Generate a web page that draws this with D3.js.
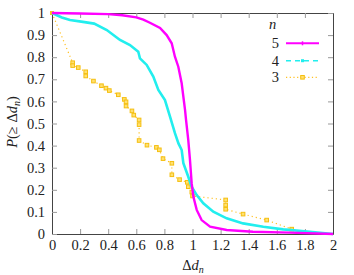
<!DOCTYPE html>
<html>
<head>
<meta charset="utf-8">
<script src="https://cdn.jsdelivr.net/npm/d3@7"></script>
<style>
  body { margin: 0; background: #fff; }
</style>
</head>
<body>
<svg id="chart" width="354" height="275"></svg>
<script>
// series n = 5, 4, 3 as [Δd_n, P(≥ Δd_n)]
const series5 = [[0, 1], [0.2, 0.998], [0.4, 0.995], [0.5, 0.99], [0.6, 0.98], [0.65, 0.97], [0.697, 0.956],
  [0.769, 0.932], [0.816, 0.9], [0.852, 0.863], [0.875, 0.802], [0.899, 0.757], [0.923, 0.682], [0.935, 0.621],
  [0.947, 0.561], [0.954, 0.516], [0.97, 0.425], [0.982, 0.335], [0.994, 0.23], [1.006, 0.169], [1.03, 0.109],
  [1.065, 0.063], [1.125, 0.033], [1.243, 0.018], [1.43, 0.01], [1.69, 0.006], [2, 0]];
const series4 = [[0, 1], [0.07, 0.98], [0.128, 0.968], [0.22, 0.96], [0.3, 0.952], [0.39, 0.923], [0.47, 0.885],
  [0.484, 0.878], [0.555, 0.855], [0.614, 0.825], [0.62, 0.81], [0.626, 0.795], [0.674, 0.765], [0.721, 0.712],
  [0.757, 0.652], [0.804, 0.606], [0.84, 0.531], [0.875, 0.456], [0.9, 0.41], [0.923, 0.38], [0.935, 0.32],
  [0.97, 0.259], [0.994, 0.214], [1.03, 0.176], [1.077, 0.139], [1.148, 0.101], [1.243, 0.071], [1.36, 0.048],
  [1.504, 0.033], [1.646, 0.021], [1.836, 0.01], [2, 0]];
const series3 = [[0, 1], [0.147, 0.775], [0.147, 0.762], [0.187, 0.753], [0.24, 0.734], [0.24, 0.715], [0.295, 0.692],
  [0.352, 0.671], [0.384, 0.66], [0.408, 0.649], [0.472, 0.63], [0.515, 0.609], [0.527, 0.598], [0.527, 0.579],
  [0.569, 0.557], [0.582, 0.538], [0.62, 0.516], [0.62, 0.495], [0.62, 0.423], [0.676, 0.402], [0.743, 0.392],
  [0.764, 0.381], [0.79, 0.341], [0.853, 0.32], [0.853, 0.268], [0.908, 0.246], [0.963, 0.234], [0.97, 0.214],
  [0.995, 0.19], [1.0, 0.172], [1.236, 0.154], [1.236, 0.131], [1.236, 0.112], [1.36, 0.09], [1.528, 0.063],
  [1.706, 0.022]];
const xTicks = [0, 0.2, 0.4, 0.6, 0.8, 1, 1.2, 1.4, 1.6, 1.8, 2];
const yTicks = [0, 0.1, 0.2, 0.3, 0.4, 0.5, 0.6, 0.7, 0.8, 0.9, 1];
const legendLabels = ['5', '4', '3'];

const FONT = 'Liberation Serif';
const FS = 14.5;
const plotLeft = 52, plotRight = 333, plotTop = 13, plotBottom = 234;
const svg = d3.select('#chart');

const x = d3.scaleLinear().domain([0, 2]).range([plotLeft, plotRight]);
const y = d3.scaleLinear().domain([0, 1]).range([plotBottom, plotTop]);
const fmt = d3.format('~g');

// ticks point inward on all four sides
const axes = [
  [d3.axisBottom(x).tickValues(xTicks).tickFormat(fmt).tickSizeInner(-5).tickPadding(6), `translate(0,${plotBottom})`],
  [d3.axisTop(x).tickValues(xTicks).tickFormat('').tickSizeInner(-5), `translate(0,${plotTop})`],
  [d3.axisLeft(y).tickValues(yTicks).tickFormat(fmt).tickSizeInner(-5).tickPadding(7), `translate(${plotLeft},0)`],
  [d3.axisRight(y).tickValues(yTicks).tickFormat('').tickSizeInner(-5), `translate(${plotRight},0)`],
];
axes.forEach(([ax, tr]) => {
  const g = svg.append('g').attr('transform', tr).call(ax.tickSizeOuter(0));
  g.attr('font-family', null).attr('font-size', null);
  g.select('.domain').attr('stroke', '#444');
  g.selectAll('.tick line').attr('stroke', '#999');
  g.selectAll('.tick text').attr('fill', '#222')
    .style('font-family', FONT).style('font-size', FS + 'px');
});

const line = d3.line().x(d => x(d[0])).y(d => y(d[1]));

svg.append('path').datum(series3)
  .attr('d', line).attr('fill', 'none')
  .attr('stroke', '#ffc020').attr('stroke-width', 1.2).attr('stroke-dasharray', '1.2,3');
svg.append('g').selectAll('rect').data(series3.slice(1)).join('rect')
  .attr('x', d => x(d[0]) - 1.8).attr('y', d => y(d[1]) - 1.8)
  .attr('width', 3.6).attr('height', 3.6)
  .attr('fill', '#ffe070').attr('stroke', '#f5bf10').attr('stroke-width', 1);
svg.append('rect').attr('x', x(0) - 2).attr('y', y(1) - 2).attr('width', 4).attr('height', 4)
  .attr('fill', '#ffc020');

svg.append('path').datum(series4)
  .attr('d', line).attr('fill', 'none')
  .attr('stroke', '#22eeee').attr('stroke-width', 2.6);

svg.append('path').datum(series5)
  .attr('d', line).attr('fill', 'none')
  .attr('stroke', '#ff00ff').attr('stroke-width', 2.4);

// legend
const leg = svg.append('g');
const txt = sel => sel.style('font-family', FONT).style('font-size', FS + 'px').attr('fill', '#222');
leg.append('text').attr('x', 272.5).attr('y', 29).attr('text-anchor', 'middle')
  .call(txt).style('font-style', 'italic').text('n');
const legY = [43.3, 60.7, 77.3];
const legStyle = [
  { c: '#ff00ff', w: 2, dash: null },
  { c: '#22eeee', w: 1.6, dash: '5,4' },
  { c: '#ffc020', w: 1.2, dash: '1.2,2.5' },
];
legendLabels.forEach((lab, i) => {
  leg.append('text').attr('x', 279).attr('y', legY[i] + 5).attr('text-anchor', 'end').call(txt).text(lab);
  leg.append('line').attr('x1', 286).attr('x2', 319).attr('y1', legY[i]).attr('y2', legY[i])
    .attr('stroke', legStyle[i].c).attr('stroke-width', legStyle[i].w)
    .attr('stroke-dasharray', legStyle[i].dash);
});
leg.append('line').attr('x1', 302.5).attr('x2', 302.5).attr('y1', legY[0] - 2).attr('y2', legY[0] + 2)
  .attr('stroke', '#ff00ff').attr('stroke-width', 1.5);
leg.append('rect').attr('x', 301).attr('y', legY[1] - 1.5).attr('width', 3).attr('height', 3).attr('fill', '#22eeee');
leg.append('rect').attr('x', 300.7).attr('y', legY[2] - 1.8).attr('width', 3.6).attr('height', 3.6)
  .attr('fill', '#ffe070').attr('stroke', '#f5bf10');

// axis labels
const xl = svg.append('text').attr('x', 193).attr('y', 270).attr('text-anchor', 'middle').call(txt);
xl.append('tspan').text('Δ');
xl.append('tspan').style('font-style', 'italic').text('d');
xl.append('tspan').style('font-style', 'italic').style('font-size', '10px').attr('dy', 3).text('n');

const yl = svg.append('text').attr('transform', 'translate(17,122) rotate(-90)')
  .attr('text-anchor', 'middle').call(txt);
yl.append('tspan').style('font-style', 'italic').text('P');
yl.append('tspan').text('(≥ Δ');
yl.append('tspan').style('font-style', 'italic').text('d');
yl.append('tspan').style('font-style', 'italic').style('font-size', '10px').attr('dy', 3).text('n');
yl.append('tspan').attr('dy', -3).text(')');
</script>
</body>
</html>
